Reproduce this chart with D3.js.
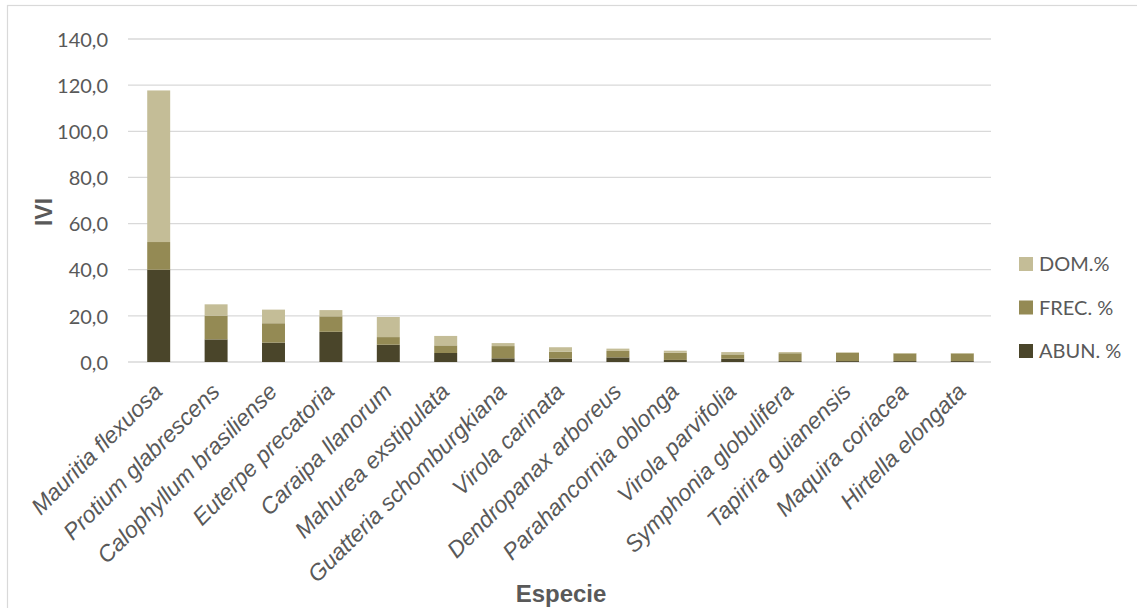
<!DOCTYPE html>
<html>
<head>
<meta charset="utf-8">
<script src="https://cdn.jsdelivr.net/npm/d3@7"></script>
<style>
    body { margin: 0; background: #fff; }
    svg text { fill: #595959; }
</style>
</head>
<body>
<svg id="chart" width="1137" height="608"></svg>
<script>
// species (x categories)
var species = ["Mauritia flexuosa", "Protium glabrescens", "Calophyllum brasiliense",
    "Euterpe precatoria", "Caraipa llanorum", "Mahurea exstipulata",
    "Guatteria schomburgkiana", "Virola carinata", "Dendropanax arboreus",
    "Parahancornia oblonga", "Virola parvifolia", "Symphonia globulifera",
    "Tapirira guianensis", "Maquira coriacea", "Hirtella elongata"];

// stacked series, bottom to top
var abun = [40.0, 9.8, 8.4, 13.1, 7.5, 3.9, 1.6, 1.5, 2.0, 0.9, 1.4, 0.4, 0.4, 0.4, 0.4];
var frec = [12.0, 10.3, 8.4, 6.7, 3.3, 3.3, 5.3, 3.0, 2.8, 3.1, 1.9, 3.4, 3.6, 3.3, 3.3];
var dom  = [65.7, 4.9, 5.9, 2.7, 8.7, 4.1, 1.3, 1.9, 1.0, 0.9, 1.0, 0.5, 0.2, 0.2, 0.2];

var yTicks = [0, 20, 40, 60, 80, 100, 120, 140];

var seriesKeys = ["abun", "frec", "dom"];
var seriesNames = {abun: "ABUN. %", frec: "FREC. %", dom: "DOM.%"};
var seriesColors = {abun: "#4a452a", frec: "#948a54", dom: "#c4bd97"};

(function () {
    "use strict";
    var svg = d3.select("#chart");

    // outer chart area border
    svg.append("rect")
        .attr("x", 7.5).attr("y", 5.5)
        .attr("width", 1200).attr("height", 700)
        .attr("fill", "none").attr("stroke", "#d9d9d9").attr("stroke-width", 1.2);

    var x = d3.scaleBand().domain(species).range([130, 991])
        .paddingInner(0.6).paddingOuter(0.3);
    var y = d3.scaleLinear().domain([0, 140]).range([362, 39]);

    var rows = species.map(function (s, i) {
        return {name: s, abun: abun[i], frec: frec[i], dom: dom[i]};
    });
    var stacked = d3.stack().keys(seriesKeys)(rows);

    // gridlines + tick labels
    var yAxis = d3.axisLeft(y).tickValues(yTicks).tickSize(0).tickPadding(0)
        .tickFormat(function (d) { return d3.format(".1f")(d).replace(".", ","); });
    var gy = svg.append("g").attr("transform", "translate(108,0)").call(yAxis);
    gy.select(".domain").remove();
    gy.selectAll("text")
        .attr("font-family", "Lato, 'Open Sans', sans-serif")
        .attr("font-size", 20)
        .attr("dy", "0.36em")
        .style("fill", "#595959");

    svg.append("g").selectAll("line").data(yTicks).join("line")
        .attr("x1", 128).attr("x2", 991)
        .attr("y1", function (d) { return y(d); })
        .attr("y2", function (d) { return y(d); })
        .attr("stroke", "#d9d9d9").attr("stroke-width", 1.3);

    // bars
    svg.append("g").selectAll("g").data(stacked).join("g")
        .attr("fill", function (d) { return seriesColors[d.key]; })
        .selectAll("rect").data(function (d) { return d; }).join("rect")
        .attr("x", function (d) { return x(d.data.name); })
        .attr("width", x.bandwidth())
        .attr("y", function (d) { return y(d[1]); })
        .attr("height", function (d) { return y(d[0]) - y(d[1]); });

    // category labels, rotated
    var xAxis = d3.axisBottom(x).tickSize(0).tickPadding(0);
    var gx = svg.append("g").attr("transform", "translate(0,362)").call(xAxis);
    gx.select(".domain").remove();
    gx.selectAll(".tick text")
        .attr("font-family", "'Liberation Sans', Arial, sans-serif")
        .attr("font-style", "italic")
        .attr("font-size", 23)
        .attr("text-anchor", "end")
        .attr("y", 0).attr("dy", 0)
        .attr("transform", "translate(5,31) rotate(-45)")
        .style("fill", "#595959");

    // axis titles
    svg.append("text")
        .attr("transform", "translate(52,212) rotate(-90)")
        .attr("text-anchor", "middle")
        .attr("font-family", "'Liberation Sans', Arial, sans-serif")
        .attr("font-weight", "bold").attr("font-size", 23)
        .text("IVI");

    svg.append("text")
        .attr("x", 561).attr("y", 602)
        .attr("text-anchor", "middle")
        .attr("font-family", "'Liberation Sans', Arial, sans-serif")
        .attr("font-weight", "bold").attr("font-size", 24)
        .text("Especie");

    // legend, top to bottom: DOM, FREC, ABUN
    var legendKeys = seriesKeys.slice().reverse();
    var lg = svg.append("g").selectAll("g").data(legendKeys).join("g")
        .attr("transform", function (d, i) { return "translate(1019," + (264 + i * 43.5) + ")"; });
    lg.append("rect")
        .attr("x", 0).attr("y", -7).attr("width", 14).attr("height", 14)
        .attr("fill", function (d) { return seriesColors[d]; });
    lg.append("text")
        .attr("x", 20).attr("dy", "0.36em")
        .attr("font-family", "Lato, 'Open Sans', sans-serif")
        .attr("font-size", 20)
        .text(function (d) { return seriesNames[d]; });
}());
</script>
</body>
</html>
